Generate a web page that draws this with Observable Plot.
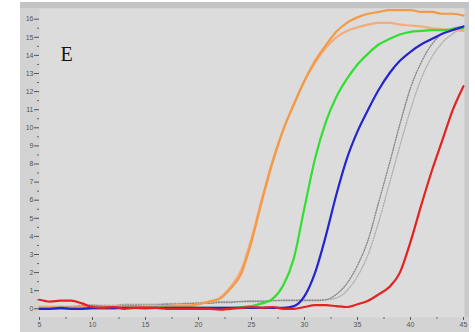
<!DOCTYPE html>
<html><head><meta charset="utf-8">
<script src="https://cdn.jsdelivr.net/npm/d3@7"></script>
<script src="https://cdn.jsdelivr.net/npm/@observablehq/plot@0.6"></script>
<style>
body{margin:0;background:#fff}
#wrap{position:relative;width:475px;height:332px;overflow:hidden}
.bg{position:absolute}
#chart{position:absolute;left:0;top:0}
</style>
</head><body>
<div id="wrap">
  <div class="bg" style="left:20px;top:2px;width:449px;height:330px;background:#d3d3d3"></div>
  <div class="bg" style="left:20px;top:2px;width:449px;height:6px;background:#c3c3c3"></div>
  <div class="bg" style="left:464px;top:8px;width:5px;height:309px;background:#c9c9c9"></div>
  <div id="chart"></div>
</div>
<script>
const cycles = [5,6,7,8,9,10,11,12,13,14,15,16,17,18,19,20,21,22,23,24,25,26,27,28,29,30,31,32,33,34,35,36,37,38,39,40,41,42,43,44,45];

const orangeUpper = [0.05,0.05,0.05,0.05,0.1,0.1,0.1,0.1,0.1,0.1,0.1,0.1,0.15,0.15,0.15,0.25,0.4,0.55,1.1,1.9,3.7,6.0,8.1,9.9,11.3,12.6,13.7,14.55,15.3,15.8,16.1,16.3,16.4,16.5,16.5,16.5,16.4,16.4,16.3,16.3,16.2];
const orangeLower = [0.1,0.1,0.05,0.05,0.05,0.1,0.1,0.15,0.1,0.1,0.15,0.15,0.15,0.2,0.2,0.25,0.4,0.6,1.2,2.1,3.9,6.1,8.2,9.9,11.3,12.6,13.6,14.4,15.0,15.35,15.55,15.7,15.8,15.8,15.7,15.65,15.6,15.5,15.45,15.4,15.35];
const green = [0.0,0.0,0.0,0.0,0.0,0.0,0.0,0.0,0.05,0.05,0.0,0.05,0.05,0.05,0.05,0.05,0.05,0.05,0.05,0.1,0.15,0.3,0.55,1.3,2.8,5.6,8.3,10.3,11.7,12.7,13.5,14.1,14.6,14.9,15.15,15.3,15.35,15.4,15.4,15.45,15.5];
const blue = [0.0,0.0,0.05,0.0,0.0,0.05,0.05,0.05,0.05,0.05,0.05,0.05,0.05,0.05,0.05,0.05,0.05,0.05,0.05,0.05,0.05,0.05,0.05,0.05,0.15,0.7,2.0,4.0,6.3,8.3,9.8,11.0,12.1,13.0,13.7,14.2,14.6,14.9,15.2,15.4,15.6];
const grayDark = [0.1,0.1,0.1,0.1,0.15,0.2,0.15,0.15,0.2,0.2,0.2,0.2,0.25,0.25,0.3,0.3,0.3,0.35,0.35,0.4,0.4,0.4,0.45,0.45,0.45,0.45,0.45,0.5,0.8,1.4,2.4,3.8,5.9,8.0,10.2,12.2,13.6,14.6,15.2,15.5,15.6];
const grayLight = [0.15,0.15,0.15,0.15,0.2,0.2,0.2,0.2,0.25,0.25,0.25,0.25,0.3,0.3,0.3,0.35,0.35,0.4,0.4,0.4,0.45,0.45,0.45,0.5,0.5,0.5,0.5,0.5,0.6,1.0,1.8,3.0,4.8,6.9,9.0,11.0,12.7,13.9,14.7,15.2,15.5];
const red = [0.5,0.4,0.45,0.45,0.3,0.1,0.05,0.1,0.0,0.05,0.05,0.05,0.0,0.0,0.0,0.0,0.0,-0.05,0.0,0.05,0.1,0.05,0.1,0.0,0.0,0.1,0.2,0.2,0.15,0.1,0.25,0.45,0.8,1.2,2.0,3.7,5.7,7.6,9.3,11.0,12.3];

const xTicks = [5,10,15,20,25,30,35,40,45];
const xMinorTicks = [7.5,12.5,17.5,22.5,27.5,32.5,37.5,42.5];
const yTicks = [0,1,2,3,4,5,6,7,8,9,10,11,12,13,14,15,16];
const yMinorTicks = [0.5,1.5,2.5,3.5,4.5,5.5,6.5,7.5,8.5,9.5,10.5,11.5,12.5,13.5,14.5,15.5];
const panelLabel = "E";

const seriesList = [
  {key:"grayLight", values: grayLight},
  {key:"grayDark", values: grayDark},
  {key:"orangeLower", values: orangeLower},
  {key:"orangeUpper", values: orangeUpper},
  {key:"green", values: green},
  {key:"blue", values: blue},
  {key:"red", values: red}
];
const styles = {
  grayLight: {stroke:"#b0b0b0", width:1.4, dash:"1,1.6"},
  grayDark: {stroke:"#8a8a8a", width:1.4, dash:"1,1.6"},
  orangeLower: {stroke:"#f3ac7c", width:2.2, dash:null},
  orangeUpper: {stroke:"#f39a45", width:2.2, dash:null},
  green: {stroke:"#2fe02f", width:2.2, dash:null},
  blue: {stroke:"#2424d0", width:2.2, dash:null},
  red: {stroke:"#e52222", width:2.2, dash:null}
};

const lineMarks = seriesList.map(s => {
  const rows = cycles.map((c, i) => ({cycle: c, value: s.values[i]}));
  const st = styles[s.key];
  return Plot.line(rows, {x:"cycle", y:"value", stroke: st.stroke, strokeWidth: st.width,
    strokeDasharray: st.dash, curve:"monotone-x"});
});

const chart = Plot.plot({
  width: 475, height: 332,
  marginLeft: 39, marginRight: 12, marginTop: 8, marginBottom: 15,
  style: {background:"transparent", fontFamily:"Liberation Sans, Arial, sans-serif"},
  x: {domain:[5,45], label:null},
  y: {domain:[-0.48,16.59], label:null},
  marks: [
    Plot.frame({fill:"#dcdcdc", stroke:null, insetRight:-1}),
    Plot.axisY(yTicks, {anchor:"left", tickSize:5, tickPadding:1, fontSize:7, color:"#555", tickFormat:d=>d, label:null}),
    Plot.axisY(yMinorTicks, {anchor:"left", tickSize:2, text:null, color:"#666", label:null}),
    Plot.axisX(xTicks, {anchor:"bottom", tickSize:3, tickPadding:2, fontSize:7, color:"#555", tickFormat:d=>d, label:null}),
    Plot.axisX(xMinorTicks, {anchor:"bottom", tickSize:2, text:null, color:"#666", label:null}),
    ...lineMarks,
    Plot.text([panelLabel], {frameAnchor:"top-left", dx:21, dy:38, text:d=>d, fontSize:20,
      fontFamily:"Liberation Serif, DejaVu Serif, serif", fill:"#151515", textAnchor:"start", lineAnchor:"top"})
  ]
});
document.getElementById("chart").appendChild(chart);
</script>
</body></html>
